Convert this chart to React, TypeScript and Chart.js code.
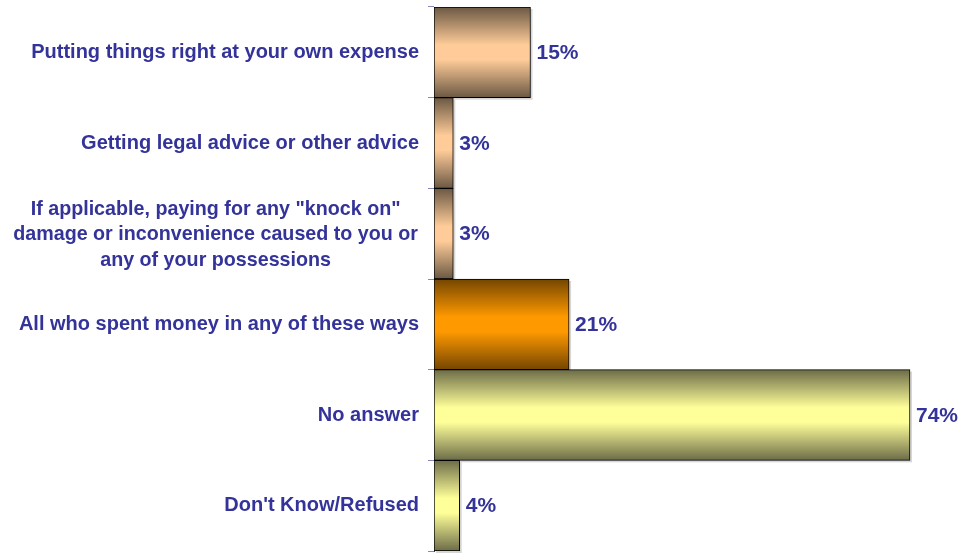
import React, { useEffect, useRef } from "react";
import { Chart, registerables } from "chart.js";

Chart.register(...registerables);

const categories: (string | string[])[] = [
  "Putting things right at your own expense",
  "Getting legal advice or other advice",
  ["If applicable, paying for any \"knock on\"", "damage or inconvenience caused to you or", "any of your possessions"],
  "All who spent money in any of these ways",
  "No answer",
  "Don't Know/Refused",
];
const values = [15, 3, 3, 21, 74, 4];
const valueLabels = ["15%", "3%", "3%", "21%", "74%", "4%"];
const edgeColors = ["#6b5843", "#6b5843", "#6b5843", "#744600", "#6c6c48", "#6c6c48"];
const midColors = ["#ffcc99", "#ffcc99", "#ffcc99", "#ff9900", "#ffff99", "#ffff99"];

const TEXT_COLOR = "#333399";
const FONT = "'Liberation Sans', Arial, sans-serif";

const labelPlugin = {
  id: "customLabels",
  afterDraw(chart: any) {
    const ctx = chart.ctx;
    const y = chart.scales.y;
    const x = chart.scales.x;
    ctx.save();
    ctx.fillStyle = TEXT_COLOR;
    ctx.textBaseline = "middle";
    // category labels
    const rightEdge = chart.chartArea.left - 15;
    categories.forEach((lab, i) => {
      const cy = y.getPixelForValue(i);
      if (Array.isArray(lab)) {
        ctx.font = `bold 19.7px ${FONT}`;
        const widths = lab.map((l) => ctx.measureText(l).width);
        const widest = Math.max(...widths);
        const center = rightEdge - 1 - widest / 2;
        const lh = 25.5;
        ctx.textAlign = "center";
        lab.forEach((l, k) => {
          ctx.fillText(l, center, cy + 1 + (k - (lab.length - 1) / 2) * lh);
        });
      } else {
        ctx.font = `bold 20px ${FONT}`;
        ctx.textAlign = "right";
        ctx.fillText(lab, rightEdge, cy);
      }
    });
    // value labels
    ctx.font = `bold 21px ${FONT}`;
    ctx.textAlign = "left";
    values.forEach((v, i) => {
      const cy = y.getPixelForValue(i);
      ctx.fillText(valueLabels[i], x.getPixelForValue(v) + 6, cy + 1);
    });
    ctx.restore();
  },
};

const shadowPlugin = {
  id: "barShadow",
  beforeDatasetsDraw(chart: any) {
    const ctx = chart.ctx;
    const meta = chart.getDatasetMeta(0);
    ctx.save();
    ctx.fillStyle = "rgba(120,120,120,0.3)";
    meta.data.forEach((bar: any) => {
      const top = Math.min(bar.y - bar.height / 2, bar.y + bar.height / 2);
      const h = Math.abs(bar.height);
      ctx.fillRect(bar.base + 2, top + 2, bar.x - bar.base, h);
    });
    ctx.restore();
  },
};

export default function App() {
  const ref = useRef<HTMLCanvasElement>(null);
  useEffect(() => {
    if (!ref.current) return;
    const chart = new Chart(ref.current, {
      type: "bar",
      data: {
        labels: categories as any,
        datasets: [
          {
            data: values,
            backgroundColor: (c: any) => {
              const ch = c.chart;
              const ys = ch.scales?.y;
              const i = c.dataIndex;
              if (!ys || i === undefined || !ch.chartArea) return midColors[i ?? 0];
              const cy = ys.getPixelForValue(i);
              const half = (ch.chartArea.bottom - ch.chartArea.top) / categories.length / 2;
              const g = ch.ctx.createLinearGradient(0, cy - half, 0, cy + half);
              g.addColorStop(0, edgeColors[i]);
              g.addColorStop(0.42, midColors[i]);
              g.addColorStop(0.58, midColors[i]);
              g.addColorStop(1, edgeColors[i]);
              return g;
            },
            borderColor: "#000000",
            borderWidth: 1,
            borderSkipped: false,
            barPercentage: 1,
            categoryPercentage: 1,
          },
        ],
      },
      options: {
        indexAxis: "y",
        animation: false,
        responsive: false,
        maintainAspectRatio: false,
        layout: { padding: { left: 0, right: 15.4, top: 7, bottom: 2 } },
        plugins: { legend: { display: false }, tooltip: { enabled: false } },
        scales: {
          x: { display: false, min: 0, max: 80 },
          y: {
            type: "category",
            offset: true,
            ticks: { display: false },
            grid: {
              offset: true,
              drawOnChartArea: false,
              drawTicks: true,
              tickLength: 6,
              color: "#8888bb",
            },
            border: { display: true, color: "#3333aa", width: 1 },
            afterFit: (s: any) => {
              s.width = 434;
            },
          },
        },
      },
      plugins: [shadowPlugin, labelPlugin],
    });
    return () => chart.destroy();
  }, []);
  return (
    <div style={{ position: "fixed", left: 0, top: 0, width: 964, height: 553, background: "#fff" }}>
      <canvas ref={ref} width={964} height={553} style={{ width: 964, height: 553 }} />
    </div>
  );
}
